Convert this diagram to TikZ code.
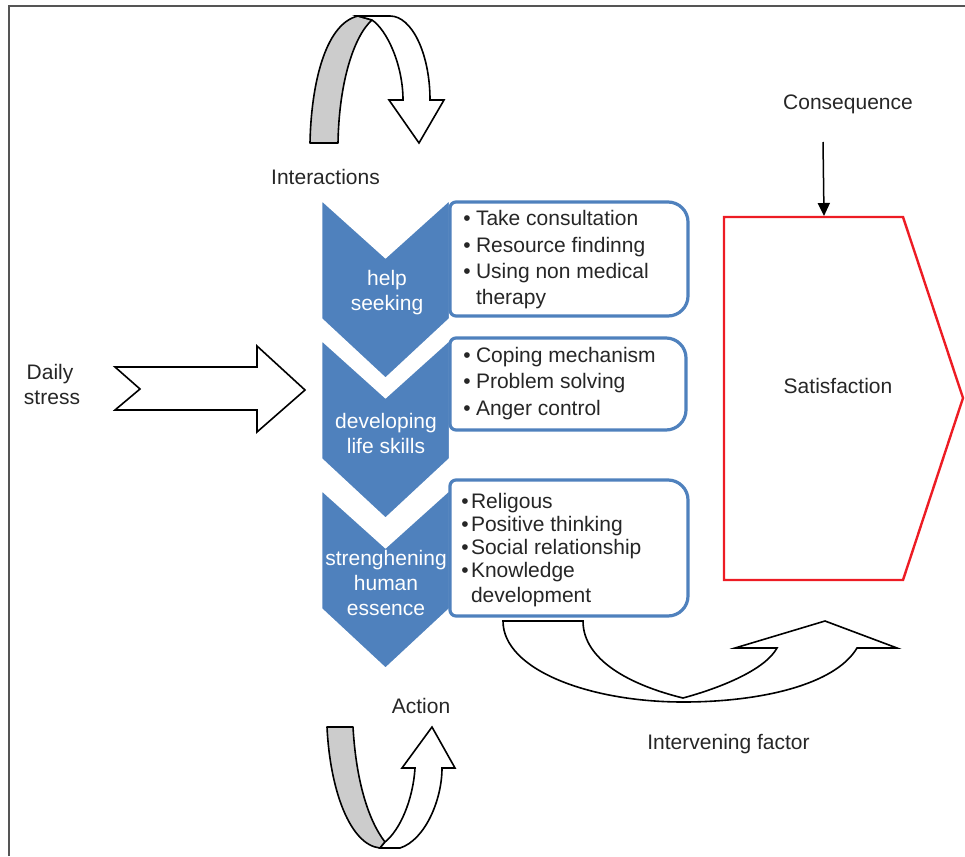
\documentclass[tikz,border=0pt]{standalone}
\usepackage{fontspec}
\setmainfont{Liberation Sans}
\usetikzlibrary{arrows.meta}
\definecolor{chevblue}{RGB}{79,129,189}
\definecolor{boxblue}{RGB}{79,129,189}
\definecolor{satred}{RGB}{237,28,36}
\definecolor{txtgray}{RGB}{38,38,38}
\definecolor{ribgray}{RGB}{204,204,204}
\definecolor{framegray}{RGB}{85,85,85}
\newcommand{\drawchevron}[1]{%
  \fill[chevblue,draw=white,line width=2.5pt,line join=miter]
    (321,#1) -- (385.5,#1+58) -- (450,#1) -- (450,#1+120) -- (385.5,#1+180) -- (321,#1+120) -- cycle;}
\newcommand{\drawinfobox}[4]{% x1 y1 x2 y2
  \draw[boxblue,fill=white,line width=3.2pt]
    (#1+6,#2) -- (#3-20,#2) .. controls (#3-9,#2) and (#3,#2+9) .. (#3,#2+20)
    -- (#3,#4-20) .. controls (#3,#4-9) and (#3-9,#4) .. (#3-20,#4)
    -- (#1+6,#4) .. controls (#1+2.7,#4) and (#1,#4-2.7) .. (#1,#4-6)
    -- (#1,#2+6) .. controls (#1,#2+2.7) and (#1+2.7,#2) .. (#1+6,#2) -- cycle;}
\tikzset{
  txt/.style={inner sep=0pt,outer sep=0pt,text=txtgray,font=\fontsize{21}{25}\selectfont},
  wtxt/.style={txt,text=white,anchor=base},
  bul/.style={txt,anchor=base},
  ltxt/.style={txt,anchor=base west},
  outl/.style={draw=black,line width=1.6pt,line join=miter,fill=white},
}
\begin{document}
\begin{tikzpicture}[x=1pt,y=-1pt]
\useasboundingbox (0,0) rectangle (965,856);
% frame
\draw[framegray,line width=2pt] (9,856) -- (9,6) -- (965,6);

% top turning arrow
\filldraw[fill=ribgray,draw=black,line width=1.6pt,line join=round]
  (310,143) .. controls (311,88) and (324,24) .. (358,16)
  -- (372,20) .. controls (354,36) and (339,82) .. (338,143) -- cycle;
\filldraw[outl]
  (358,16) -- (390,16) .. controls (412,16) and (430,54) .. (430,100)
  -- (444,100) -- (419,143) -- (389,100) -- (403,100)
  .. controls (403,65) and (387,30) .. (372,20) -- cycle;

% bottom turning arrow
\filldraw[fill=ribgray,draw=black,line width=1.6pt,line join=round]
  (327,727) -- (353,727) .. controls (356,780) and (368,820) .. (385,842)
  -- (380,848) .. controls (350,845) and (330,790) .. (327,727) -- cycle;
\filldraw[outl]
  (380,848) -- (400,848) .. controls (425,840) and (442,800) .. (442,768)
  -- (455,768) -- (432,727) -- (402,768) -- (415,768)
  .. controls (413,800) and (400,830) .. (385,842) -- cycle;

% daily stress arrow
\filldraw[outl] (115,367) -- (257,367) -- (257,346) -- (305,390) -- (257,432)
  -- (257,410) -- (115,410) -- (140,389) -- cycle;

% chevrons
\drawchevron{199}
\drawchevron{339}
\drawchevron{489}

% info boxes
\drawinfobox{450}{202}{688}{316}
\drawinfobox{450}{338}{686}{430}
\drawinfobox{450}{480}{688}{616}

% intervening curved arrow
\filldraw[outl]
  (503,621) -- (583,621) .. controls (583,660) and (630,685) .. (683,698)
  .. controls (720,688) and (765,670) .. (777,648)
  -- (735,648) -- (825,621) -- (897,648) -- (857,648)
  .. controls (835,685) and (760,702) .. (683,702)
  .. controls (590,702) and (503,670) .. (503,621) -- cycle;

% satisfaction pentagon
\draw[satred,line width=2.4pt,line join=miter] (724,217) -- (903,217) -- (963,398) -- (903,580) -- (724,580) -- cycle;
\coordinate (sattop) at (824,216);

% chevron texts
\node[wtxt] (c1a) at (387,285) {help};
\node[wtxt] (c1b) at (387,310) {seeking};
\node[wtxt] (c2a) at (386,428) {developing};
\node[wtxt] (c2b) at (386,453) {life skills};
\node[wtxt] (c3a) at (386,565) {strenghening};
\node[wtxt] (c3b) at (386,590) {human};
\node[wtxt] (c3c) at (386,615) {essence};

% box 1 texts
\node[bul] (d11) at (467,225) {\textbullet};
\node[ltxt] (t11) at (476,225) {Take consultation};
\node[bul] (d12) at (467,252) {\textbullet};
\node[ltxt] (t12) at (476,252) {Resource findinng};
\node[bul] (d13) at (467,278) {\textbullet};
\node[ltxt] (t13) at (476,278) {Using non medical};
\node[ltxt] (t14) at (476,304) {therapy};

% box 2 texts
\node[bul] (d21) at (467,362) {\textbullet};
\node[ltxt] (t21) at (476,362) {Coping mechanism};
\node[bul] (d22) at (467,388) {\textbullet};
\node[ltxt] (t22) at (476,388) {Problem solving};
\node[bul] (d23) at (467,415) {\textbullet};
\node[ltxt] (t23) at (476,415) {Anger control};

% box 3 texts
\node[bul] (d31) at (465,508) {\textbullet};
\node[ltxt] (t31) at (471,508) {Religous};
\node[bul] (d32) at (465,531) {\textbullet};
\node[ltxt] (t32) at (471,531) {Positive thinking};
\node[bul] (d33) at (465,554) {\textbullet};
\node[ltxt] (t33) at (471,554) {Social relationship};
\node[bul] (d34) at (465,577) {\textbullet};
\node[ltxt] (t34) at (471,577) {Knowledge};
\node[ltxt] (t35) at (471,602) {development};

% other labels
\node[txt,anchor=base] (inter) at (325.5,184) {Interactions};
\node[txt,anchor=base] (action) at (421,713) {Action};
\node[txt,anchor=base] (cons) at (848,110) {Consequence};
\node[txt,anchor=base] (sat) at (838,393) {Satisfaction};
\node[txt,anchor=base] (interv) at (728.5,749) {Intervening factor};
\node[txt,anchor=base] (daily) at (50,379) {Daily};
\node[txt,anchor=base] (stress) at (52,404) {stress};

% consequence arrow
\coordinate (consfoot) at (823,142);
\draw[line width=1.5pt,-{Triangle[width=12pt,length=13pt]}] (consfoot) -- (sattop);
\end{tikzpicture}
\end{document}
